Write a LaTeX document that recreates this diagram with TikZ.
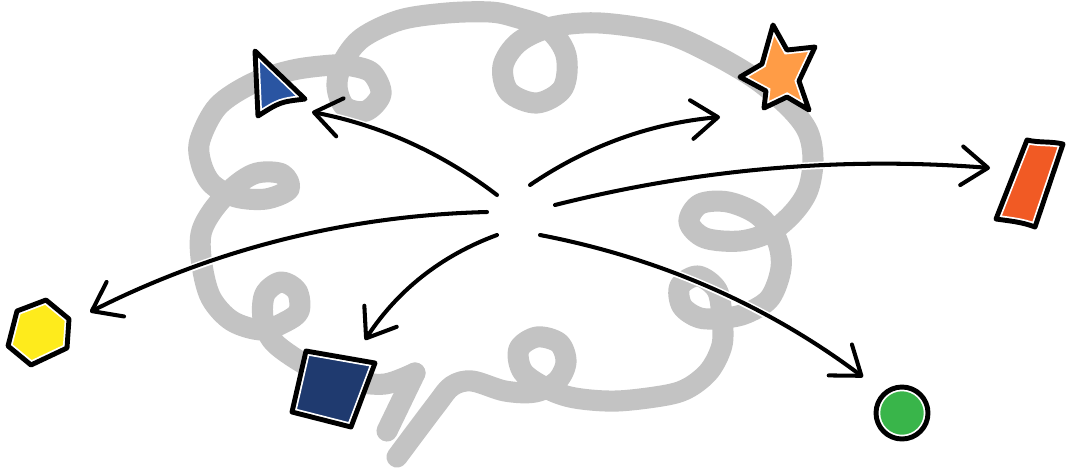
\documentclass[tikz,border=0pt]{standalone}
\usetikzlibrary{arrows.meta}
\definecolor{cloudgray}{RGB}{195,195,195}
\definecolor{triblue}{RGB}{42,85,162}
\definecolor{staror}{RGB}{255,156,70}
\definecolor{paraor}{RGB}{241,90,36}
\definecolor{hexyel}{RGB}{254,235,28}
\definecolor{sqnavy}{RGB}{31,58,111}
\definecolor{cirgreen}{RGB}{57,181,74}
\tikzset{
  cloudline/.style={draw=cloudgray, line width=12pt, line cap=round, line join=round},
  arr/.style={line width=2.3pt, line cap=round,
    -{Straight Barb[length=15pt,width=22pt,round]},
    preaction={draw=white, line width=4.2pt, -}},
}
\newcommand\fancyshape[2]{%
  \fill[#1] #2;
  \begin{scope}\clip #2; \draw[white, line width=4.8pt] #2; \end{scope}
  \draw[black, line width=2.8pt, line join=round] #2;
}
\begin{document}
\begin{tikzpicture}[x=0.02cm, y=-0.02cm]
\useasboundingbox (0,0) rectangle (1071,468);
% cloud
\draw[cloudline] (387,431) -- (415,373);
\draw[cloudline] plot[smooth, tension=0.55] coordinates {
(415,373) (385,384) (350,381) (320,372) (293,357) (272,340)
(263,318) (265,294) (281,282) (297,291) (299,311) (285,322) (262,330) (232,321) (211,298)
(202,265) (201,234) (213,210)
(235,186) (257,173) (282,174) (289,189) (266,199) (236,197) (212,184)
(201,163) (200,140) (218,106) (253,83) (293,70) (333,65) (352,66)
(372,73) (381,94) (366,111) (345,107) (337,86) (343,62)
(362,38) (400,20) (447,13) (490,12) (515,17)
(548,29) (566,55) (563,88) (537,103) (509,92) (503,66) (519,42) (552,27)
(600,23) (665,33) (715,55) (757,80) (790,108) (808,132) (813,160) (808,190) (793,213)
(770,232) (740,241) (705,238) (689,222) (700,204) (728,202) (758,215) (777,240)
(781,268) (770,298) (747,313) (725,318)
(700,318) (682,306) (680,286) (698,276) (717,290) (722,318) (722,345)
(710,370) (690,387) (667,395) (617,401) (575,398)
(548,389) (523,372) (519,349) (537,337) (559,343) (566,362) (557,381) (535,392)
(505,391) (472,381) (452,386) (436,405) (397,457)};
% shapes
\fancyshape{triblue}{(255,51) -- (305,99) .. controls (280,102) .. (258,116) -- cycle}
\fancyshape{staror}{(773,25) -- (787,50) -- (815,47) -- (799,81) -- (809,110) -- (787,97) -- (764,108) -- (766,91) -- (740,77) -- (762,64) -- cycle}
\fancyshape{paraor}{(1027,140) .. controls (1040,143) and (1050,141) .. (1063,144) -- (1035,227) .. controls (1022,222) and (1010,221) .. (996,219) -- cycle}
\fancyshape{hexyel}{(17,311) -- (46,300) -- (69,319) -- (67,348) -- (31,365) -- (8,346) -- cycle}
\fancyshape{sqnavy}{(306,351) -- (375,363) -- (351,427) -- (292,412) -- cycle}
\fancyshape{cirgreen}{(902,413) circle[radius=0.52cm]}
% arrow ends
\coordinate (sT) at (497,195); \coordinate (eT) at (312,112);
\coordinate (sS) at (530,185); \coordinate (eS) at (720,117);
\coordinate (sP) at (555,205); \coordinate (eP) at (990,168);
\coordinate (sH) at (487,212); \coordinate (eH) at (90,312);
\coordinate (sQ) at (497,235); \coordinate (eQ) at (365,340);
\coordinate (sC) at (540,235); \coordinate (eC) at (863,377);
\draw[arr] (sT) .. controls (441.8,152.7) and (380.2,125.1) .. (eT);
\draw[arr] (sS) .. controls (587.4,145.8) and (650.8,123.2) .. (eS);
\draw[arr] (sP) .. controls (698,168.8) and (843,156.4) .. (eP);
\draw[arr] (sH) .. controls (347.2,215.5) and (214.8,248.9) .. (eH);
\draw[arr] (sQ) .. controls (441.4,255.4) and (397.4,290.4) .. (eQ);
\draw[arr] (sC) .. controls (659,257.8) and (767.4,305.2) .. (eC);
\end{tikzpicture}
\end{document}
